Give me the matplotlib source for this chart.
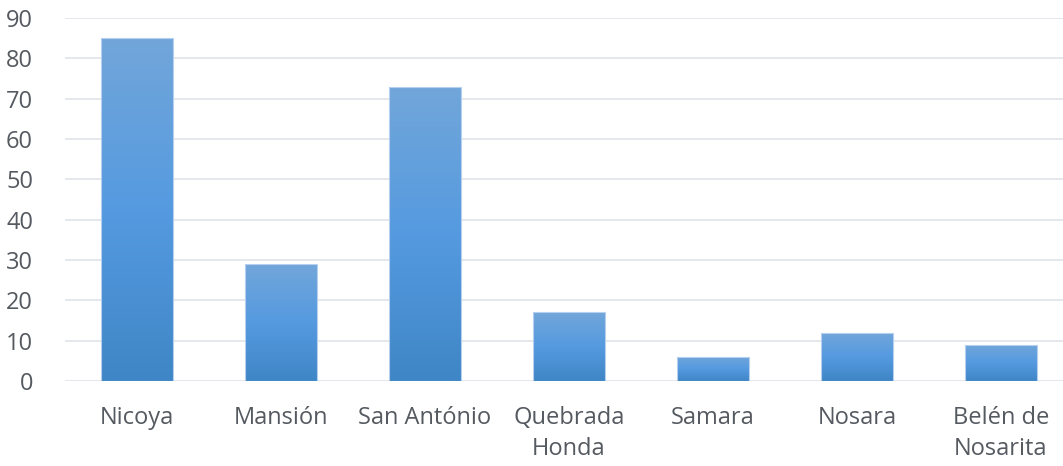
import numpy as np
import matplotlib.pyplot as plt
from matplotlib.colors import LinearSegmentedColormap

places = ["Nicoya", "Mansión", "San António", "Quebrada\nHonda", "Samara", "Nosara", "Belén de\nNosarita"]
counts = [85, 29, 73, 17, 6, 12, 9]
yticks = [0, 10, 20, 30, 40, 50, 60, 70, 80, 90]

plt.rcParams['font.family'] = ['Open Sans', 'DejaVu Sans']

fig = plt.figure(figsize=(10.63, 4.66), dpi=100)
ax = fig.add_axes([65 / 1063, 1 - 381 / 466, 1 - 65 / 1063, (381 - 18) / 466])

x = np.arange(len(places))
bars = ax.bar(x, counts, width=0.5, color='none', edgecolor='#b5cfee', linewidth=0.8, zorder=3)

# vertical gradient: dark at bottom, light at top
grad = LinearSegmentedColormap.from_list('g', ['#3f86c6', '#559ae0', '#72a6da'])
g = np.linspace(0, 1, 256).reshape(-1, 1)
for b in bars:
    x0, w, h = b.get_x(), b.get_width(), b.get_height()
    im = ax.imshow(g, cmap=grad, aspect='auto', origin='lower',
                   extent=(x0, x0 + w, 0, h), zorder=2)
    im.set_clip_path(b)

ax.set_xlim(-0.5, (1063 - 65) / 144 - 0.5)
ax.set_ylim(0, 90)
ax.set_yticks(yticks)
ax.set_xticks(x)
ax.set_xticklabels(places)
ax.grid(axis='y', color='#e2e6ec', linewidth=1.3, zorder=0)
ax.set_axisbelow(True)
for s in ax.spines.values():
    s.set_visible(False)
ax.tick_params(axis='both', length=0, labelsize=17, colors='#555a60')
ax.tick_params(axis='y', pad=23)
ax.tick_params(axis='x', pad=18)
for t in ax.get_xticklabels():
    t.set_linespacing(1.4)

fig.savefig('out.png', dpi=100)
